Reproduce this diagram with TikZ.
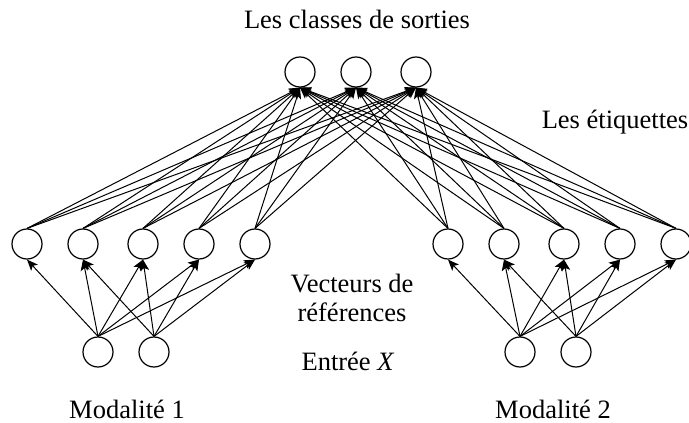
\documentclass[tikz,border=0pt]{standalone}
\usepackage{fontspec}
\setmainfont{Liberation Serif}
\usetikzlibrary{arrows.meta}
\begin{document}
\begin{tikzpicture}[x=1pt,y=-1pt,
  neuron/.style={circle,draw,line width=1.2pt,minimum size=30pt,inner sep=0pt},
  lbl/.style={font=\fontsize{26.5}{32}\selectfont,anchor=base,inner sep=0pt},
  conn/.style={line width=1pt,-{Stealth[length=11pt,width=9pt,inset=2.5pt]}}]
\useasboundingbox (0,0) rectangle (689,423);
% output layer
\node[neuron] (o1) at (300,72) {};
\node[neuron] (o2) at (356,72) {};
\node[neuron] (o3) at (416,72) {};
% hidden layers
\foreach \x [count=\i] in {27,83,143,199,255}
  \node[neuron] (a\i) at (\x,244) {};
\foreach \x [count=\i] in {448,504,564,620,676}
  \node[neuron] (b\i) at (\x,244) {};
% inputs
\node[neuron] (ia1) at (98,352) {};
\node[neuron] (ia2) at (154,352) {};
\node[neuron] (ib1) at (520,352) {};
\node[neuron] (ib2) at (576,352) {};
% hidden -> output
\foreach \i in {1,...,5}{
  \foreach \o in {1,2,3}{
    \draw[conn] (a\i.north) -- (o\o.south);
    \draw[conn] (b\i.north) -- (o\o.south);
  }
}
% input -> hidden
\foreach \i in {1,...,5}{
  \draw[conn] (ia1.north) -- (a\i.south);
  \draw[conn] (ib1.north) -- (b\i.south);
}
\foreach \i in {2,...,5}{
  \draw[conn] (ia2.north) -- (a\i.south);
  \draw[conn] (ib2.north) -- (b\i.south);
}
% labels
\node[lbl] (t1) at (357,28) {Les classes de sorties};
\node[lbl] (t2) at (615,128) {Les étiquettes};
\node[lbl] (t3) at (352,292) {Vecteurs de};
\node[lbl] (t4) at (352,321) {références};
\node[lbl] (t5) at (348,370) {Entrée \textit{X}};
\node[lbl] (t6) at (127,418) {Modalité 1};
\node[lbl] (t7) at (553,418) {Modalité 2};
\end{tikzpicture}
\end{document}
